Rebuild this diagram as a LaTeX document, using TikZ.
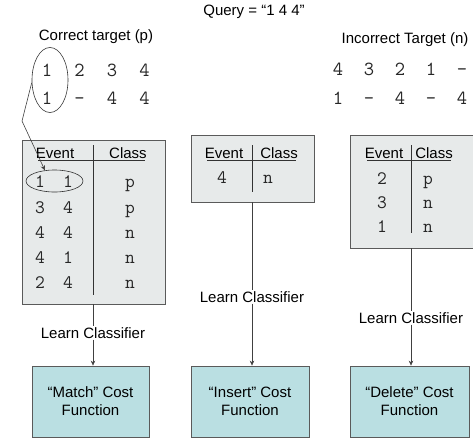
\documentclass[tikz,border=0pt]{standalone}
\usepackage{fontspec}
\setmainfont{Liberation Sans}
\usetikzlibrary{shapes.geometric,arrows.meta}
\definecolor{tabfill}{RGB}{231,234,234}
\definecolor{costfill}{RGB}{186,223,226}
\definecolor{edgegray}{RGB}{90,90,90}
\begin{document}
\begin{tikzpicture}[x=1pt,y=-1pt,
  lbl/.style={font=\fontsize{15}{17}\selectfont, inner sep=1pt},
  big/.style={font=\ttfamily\fontsize{20}{22}\selectfont, inner sep=0pt, anchor=base, text=black!85},
  cell/.style={font=\ttfamily\fontsize{19}{21}\selectfont, inner sep=0pt, anchor=base, text=black!85},
  tabbox/.style={draw=edgegray, fill=tabfill, line width=0.8pt},
  costbox/.style={draw=edgegray, fill=costfill, line width=0.8pt, align=center,
    font=\fontsize{15}{18}\selectfont},
  conn/.style={draw=black!75, line width=0.6pt},
  arr/.style={conn, -{Stealth[length=5pt,width=4.5pt]}},
  thin/.style={draw=black!80, line width=0.6pt}]
\useasboundingbox (0,0) rectangle (473,439);

% titles
\node[lbl] (query) at (254,12) {Query = “1 4 4”};
\node[lbl] (corr) at (96,37) {Correct target (p)};
\node[lbl] (incorr) at (405,40) {Incorrect Target (n)};

% alignment strings
\foreach \t [count=\i] in {1,2,3,4}
  \node[big] (a\i) at ({47+32.5*(\i-1)},76) {\t};
\foreach \t [count=\i] in {1,–,4,4}
  \node[big] (b\i) at ({47+32.5*(\i-1)},104) {\t};
\foreach \t [count=\i] in {4,3,2,1,–}
  \node[big] (c\i) at ({338+31*(\i-1)},75) {\t};
\foreach \t [count=\i] in {1,–,4,–,4}
  \node[big] (d\i) at ({338+31*(\i-1)},104) {\t};

% left table
\node[tabbox, minimum width=143pt, minimum height=164pt, inner sep=0pt] (tabL) at (93.5,222) {};
\node[lbl] (evL) at (55,153) {Event};
\node[lbl] (clL) at (128,153) {Class};
\draw[thin] (38,160) -- (145,160);
\coordinate (dvLt) at (93,145);
\coordinate (dvLb) at (93,295);
\draw[thin] (dvLt) -- (dvLb);
\foreach \y [count=\i] in {187,213,238,263,288}
  \node[cell] (eL\i) at (40,\y) {\ifcase\i\or 1\or 3\or 4\or 4\or 2\fi};
\foreach \y [count=\i] in {187,213,238,263,288}
  \node[cell] (fL\i) at (68,\y) {\ifcase\i\or 1\or 4\or 4\or 1\or 4\fi};
\foreach \y [count=\i] in {187,213,238,263,288}
  \node[cell] (gL\i) at (130,\y) {\ifcase\i\or p\or p\or n\or n\or n\fi};

% middle table
\node[tabbox, minimum width=123pt, minimum height=67pt, inner sep=0pt] (tabM) at (252.5,168.5) {};
\node[lbl] (evM) at (224,153) {Event};
\node[lbl] (clM) at (279,153) {Class};
\draw[thin] (207,160) -- (296,160);
\coordinate (dvMt) at (252,145);
\coordinate (dvMb) at (252,192);
\draw[thin] (dvMt) -- (dvMb);
\node[cell] (eM1) at (222,183) {4};
\node[cell] (gM1) at (268,183) {n};

% right table
\node[tabbox, minimum width=123pt, minimum height=113pt, inner sep=0pt] (tabR) at (411.5,191.5) {};
\node[lbl] (evR) at (384,153) {Event};
\node[lbl] (clR) at (434,153) {Class};
\draw[thin] (367,160) -- (451,160);
\coordinate (dvRt) at (411,145);
\coordinate (dvRb) at (411,233);
\draw[thin] (dvRt) -- (dvRb);
\node[cell] (eR1) at (382,184) {2};
\node[cell] (gR1) at (428,184) {p};
\node[cell] (eR2) at (382,208) {3};
\node[cell] (gR2) at (428,208) {n};
\node[cell] (eR3) at (382,232) {1};
\node[cell] (gR3) at (428,232) {n};

% ellipses and pointer
\node[draw=black!80, line width=0.6pt, ellipse, minimum width=36pt, minimum height=65pt, inner sep=0pt] (ellTop) at (50,80) {};
\node[draw=black!80, line width=0.6pt, ellipse, minimum width=57pt, minimum height=22pt, inner sep=0pt] (ellSm) at (54.5,181) {};
\coordinate (kink) at (22,121);
\draw[arr] (ellTop.188) -- (kink) -- (ellSm.132);

% learn classifier labels
\node[lbl] (lrnL) at (93,333) {Learn Classifier};
\node[lbl] (lrnM) at (252,297) {Learn Classifier};
\node[lbl] (lrnR) at (411,318) {Learn Classifier};

% cost boxes
\node[costbox, minimum width=117pt, minimum height=71pt, inner sep=0pt] (costL) at (90.5,401.5) {“Match” Cost\\Function};
\node[costbox, minimum width=118pt, minimum height=71pt, inner sep=0pt] (costM) at (250,401.5) {“Insert” Cost\\Function};
\node[costbox, minimum width=119pt, minimum height=71pt, inner sep=0pt] (costR) at (409.5,401.5) {“Delete” Cost\\Function};

% connectors
\draw[conn] (tabL.south -| dvLb) -- (lrnL.north -| dvLb);
\draw[arr] (lrnL.south -| dvLb) -- (costL.north -| dvLb);
\draw[conn] (tabM.south -| dvMb) -- (lrnM.north -| dvMb);
\draw[arr] (lrnM.south -| dvMb) -- (costM.north -| dvMb);
\draw[conn] (tabR.south -| dvRb) -- (lrnR.north -| dvRb);
\draw[arr] (lrnR.south -| dvRb) -- (costR.north -| dvRb);
\end{tikzpicture}
\end{document}
